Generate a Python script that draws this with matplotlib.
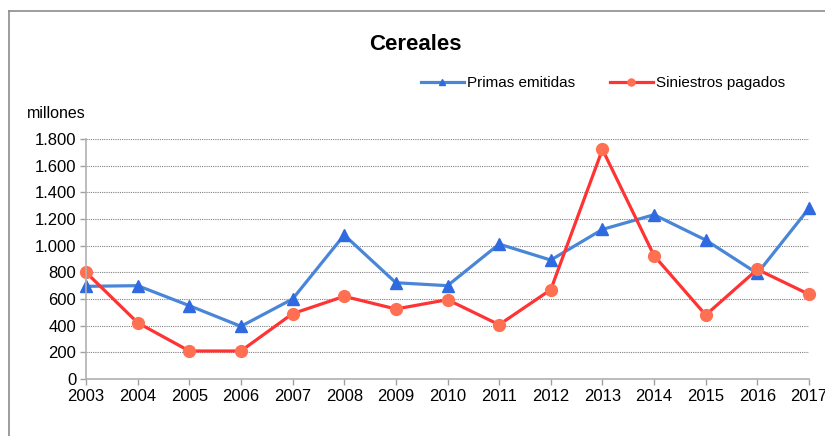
import matplotlib.pyplot as plt
from matplotlib.lines import Line2D

plt.rcParams['font.family'] = ['Liberation Sans', 'DejaVu Sans']

anios = [2003, 2004, 2005, 2006, 2007, 2008, 2009, 2010,
         2011, 2012, 2013, 2014, 2015, 2016, 2017]
primas = [695, 700, 550, 395, 600, 1080, 722, 700,
          1012, 892, 1122, 1232, 1042, 792, 1280]
siniestros = [800, 422, 210, 210, 490, 620, 525, 595,
              407, 670, 1722, 925, 480, 822, 635]
yticks = [0, 200, 400, 600, 800, 1000, 1200, 1400, 1600, 1800]
ytick_labels = ['0', '200', '400', '600', '800', '1.000', '1.200',
                '1.400', '1.600', '1.800']

W, H = 825, 436
fig = plt.figure(figsize=(W / 100, H / 100), dpi=100)
ax = fig.add_axes([86 / W, 1 - 379 / H, (809 - 86) / W, (379 - 139) / H])

# marco exterior (cortado a la derecha y abajo)
fig.add_artist(Line2D([9 / W, 1.0], [1 - 11 / H, 1 - 11 / H],
                      transform=fig.transFigure, color='#8c8c8c', lw=1.2))
fig.add_artist(Line2D([9 / W, 9 / W], [1 - 11 / H, 0.0],
                      transform=fig.transFigure, color='#8c8c8c', lw=1.2))

ax.plot(anios, primas, color='#4a86d8', lw=2.3, marker='^', ms=8,
        mfc='#2f6ae0', mec='#2f6ae0', label='Primas emitidas', clip_on=False)
ax.plot(anios, siniestros, color='#ff3333', lw=2.3, marker='o', ms=8.5,
        mfc='#ff7052', mec='#ff7052', label='Siniestros pagados', clip_on=False)

ax.set_xlim(anios[0], anios[-1])
ax.set_ylim(0, 1800)
ax.set_xticks(anios)
ax.set_xticklabels([str(a) for a in anios])
ax.set_yticks(yticks)
ax.set_yticklabels(ytick_labels)
ax.tick_params(axis='both', labelsize=12, length=4, color='#a0a0a0', width=1)
ax.tick_params(axis='y', pad=3)
ax.tick_params(axis='x', pad=3)

ax.grid(axis='y', linestyle=(0, (1, 1)), color='#808080', lw=0.8)
ax.set_axisbelow(True)
for s in ['top', 'right']:
    ax.spines[s].set_visible(False)
for s in ['left', 'bottom']:
    ax.spines[s].set_color('#b0b0b0')
    ax.spines[s].set_linewidth(1.2)

fig.text(415 / W, 1 - 44 / H, 'Cereales', ha='center', va='center',
         fontsize=16, fontweight='bold')
fig.text(27 / W, 1 - 113 / H, 'millones', ha='left', va='center', fontsize=11.5)

ax.legend(loc='center', bbox_to_anchor=(603 / W, 1 - 83 / H),
          bbox_transform=fig.transFigure, ncol=2, frameon=False,
          fontsize=11, handlelength=2.8, handletextpad=0.2,
          columnspacing=2.3, markerscale=0.6)

fig.savefig('out.png', dpi=100)
